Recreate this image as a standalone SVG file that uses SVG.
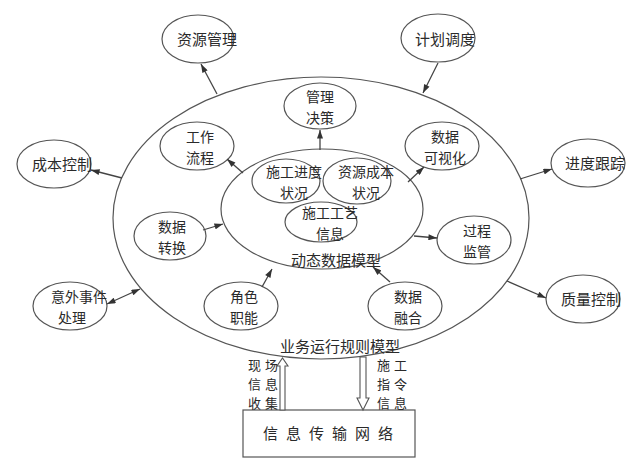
<svg xmlns="http://www.w3.org/2000/svg" width="641" height="466" viewBox="0 0 641 466">
<style>
.n{fill:none;stroke:#555;stroke-width:1.2}
.t{font-family:"Noto Sans CJK SC","Noto Sans",sans-serif;font-size:15px;fill:#2a2a2a;text-anchor:middle;dominant-baseline:central}
.m{font-size:14px}
.s{font-size:13px;text-anchor:start;letter-spacing:4px}
.c{stroke:#444;stroke-width:1.3;fill:none;marker-end:url(#a)}
.h{fill:#fff;stroke:#555;stroke-width:1.1}
</style>
<defs>
<marker id="a" viewBox="0 0 10 7" refX="10" refY="3.5" markerWidth="10" markerHeight="6" markerUnits="userSpaceOnUse" orient="auto-start-reverse">
<path d="M0,0 L10,3.5 L0,7 z" fill="#333"/>
</marker>
</defs>
<rect width="641" height="466" fill="#fff"/>

<g id="outer-model">
<ellipse class="n" cx="321" cy="218" rx="208" ry="141"/>
<text class="t" x="340" y="345">业务运行规则模型</text>
</g>
<g id="dynamic-model">
<ellipse class="n" cx="322" cy="209" rx="101" ry="60"/>
<text class="t" x="336" y="259">动态数据模型</text>
</g>
<g id="progress-status">
<ellipse class="n" cx="286" cy="181" rx="34" ry="22"/>
<text class="t m"><tspan x="294" y="171">施工进度</tspan><tspan x="294" y="192">状况</tspan></text>
</g>
<g id="resource-cost-status">
<ellipse class="n" cx="357" cy="181" rx="34" ry="23"/>
<text class="t m"><tspan x="366" y="171">资源成本</tspan><tspan x="366" y="192">状况</tspan></text>
</g>
<g id="process-info">
<ellipse class="n" cx="321" cy="222" rx="36" ry="20"/>
<text class="t m"><tspan x="330" y="212">施工工艺</tspan><tspan x="330" y="233">信息</tspan></text>
</g>
<g id="mgmt-decision">
<ellipse class="n" cx="320" cy="106" rx="36" ry="23"/>
<text class="t m"><tspan x="320" y="95.5">管理</tspan><tspan x="320" y="116.5">决策</tspan></text>
</g>
<g id="workflow">
<ellipse class="n" cx="197" cy="146" rx="37" ry="24"/>
<text class="t m"><tspan x="200" y="135.5">工作</tspan><tspan x="200" y="156.5">流程</tspan></text>
</g>
<g id="data-vis">
<ellipse class="n" cx="442" cy="146" rx="37" ry="24"/>
<text class="t m"><tspan x="445" y="135.5">数据</tspan><tspan x="445" y="156.5">可视化</tspan></text>
</g>
<g id="data-convert">
<ellipse class="n" cx="170" cy="236" rx="36" ry="24"/>
<text class="t m"><tspan x="172" y="225.5">数据</tspan><tspan x="172" y="246.5">转换</tspan></text>
</g>
<g id="process-supervise">
<ellipse class="n" cx="474" cy="240" rx="37" ry="24"/>
<text class="t m"><tspan x="477" y="229.5">过程</tspan><tspan x="477" y="250.5">监管</tspan></text>
</g>
<g id="role">
<ellipse class="n" cx="241" cy="306" rx="37" ry="24"/>
<text class="t m"><tspan x="244" y="295.5">角色</tspan><tspan x="244" y="316.5">职能</tspan></text>
</g>
<g id="data-fusion">
<ellipse class="n" cx="405" cy="306" rx="37" ry="24"/>
<text class="t m"><tspan x="408" y="295.5">数据</tspan><tspan x="408" y="316.5">融合</tspan></text>
</g>
<g id="resource-mgmt">
<ellipse class="n" cx="198" cy="39" rx="36" ry="24"/>
<text class="t" x="207" y="38">资源管理</text>
</g>
<g id="schedule">
<ellipse class="n" cx="438" cy="38" rx="37" ry="24"/>
<text class="t" x="445" y="38">计划调度</text>
</g>
<g id="cost-control">
<ellipse class="n" cx="54" cy="164" rx="37" ry="24"/>
<text class="t" x="62" y="163">成本控制</text>
</g>
<g id="progress-track">
<ellipse class="n" cx="588" cy="163" rx="37" ry="24"/>
<text class="t" x="595" y="162">进度跟踪</text>
</g>
<g id="accident">
<ellipse class="n" cx="70" cy="306" rx="37" ry="24"/>
<text class="t m"><tspan x="79" y="295.5">意外事件</tspan><tspan x="72" y="316.5">处理</tspan></text>
</g>
<g id="quality">
<ellipse class="n" cx="583" cy="299" rx="37" ry="24"/>
<text class="t" x="591" y="298">质量控制</text>
</g>
<g id="network">
<rect class="n" x="243" y="410" width="172" height="47"/>
<text class="t" x="332" y="432" letter-spacing="8">信息传输网络</text>
</g>
<g id="labels-io">
<text class="t s"><tspan x="248" y="364">现场</tspan><tspan x="248" y="383">信息</tspan><tspan x="248" y="402">收集</tspan></text>
<text class="t s"><tspan x="377" y="364">施工</tspan><tspan x="377" y="383">指令</tspan><tspan x="377" y="402">信息</tspan></text>
</g>

<g id="connectors">
<line class="c" x1="217" y1="94" x2="201" y2="64"/>
<line class="c" x1="438" y1="63" x2="423" y2="93"/>
<line class="c" x1="122" y1="178" x2="91" y2="170"/>
<line class="c" x1="520" y1="179" x2="552" y2="169"/>
<line class="c" x1="107" y1="304" x2="140" y2="289" marker-start="url(#a)"/>
<line class="c" x1="507" y1="281" x2="546" y2="298"/>
<line class="c" x1="320" y1="150" x2="320" y2="130"/>
<line class="c" x1="243" y1="173" x2="227" y2="159"/>
<line class="c" x1="408" y1="182" x2="424" y2="167"/>
<line class="c" x1="203" y1="230" x2="223" y2="224"/>
<line class="c" x1="414" y1="236" x2="437" y2="238"/>
<line class="c" x1="262" y1="287" x2="272" y2="269"/>
<line class="c" x1="390" y1="282" x2="373" y2="267"/>
<polygon class="h" points="280,410 280,366 277,366 282.5,358 288,366 285,366 285,410"/>
<polygon class="h" points="360,357 360,398 357,398 363,410 369,398 366,398 366,357"/>
</g>
</svg>
